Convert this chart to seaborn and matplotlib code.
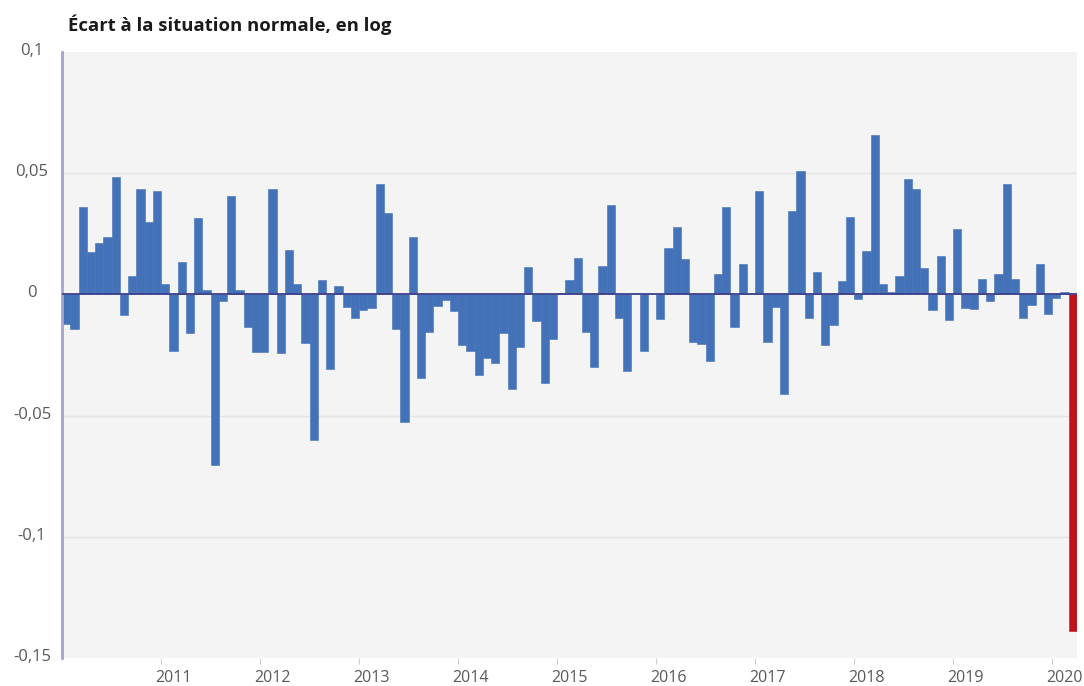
import numpy as np
import pandas as pd
import seaborn as sns
import matplotlib.pyplot as plt
from matplotlib.transforms import ScaledTranslation


# ============================
# Data (monthly, Jan 2010 -> Mar 2020)
# ============================

months = pd.date_range("2010-01-01", periods=123, freq="MS").strftime("%Y-%m").tolist()

ecart = [
    -0.0124, -0.0141, 0.0362, 0.0174, 0.0210, 0.0238, 0.0486, -0.0083, 0.0077, 0.0434, 0.0298, 0.0425,
    0.0044, -0.0235, 0.0135, -0.0160, 0.0315, 0.0019, -0.0702, -0.0028, 0.0406, 0.0019, -0.0133, -0.0238,
    -0.0238, 0.0434, -0.0243, 0.0185, 0.0044, -0.0202, -0.0601, 0.0061, -0.0309, 0.0036, -0.0052, -0.0099,
    -0.0066, -0.0055, 0.0456, 0.0334, -0.0142, -0.0525, 0.0235, -0.0343, -0.0155, -0.0047, -0.0022, -0.0069,
    -0.0207, -0.0232, -0.0331, -0.0262, -0.0283, -0.0159, -0.0390, -0.0218, 0.0113, -0.0108, -0.0366, -0.0182,
    0.0005, 0.0058, 0.0149, -0.0155, -0.0298, 0.0119, 0.0370, -0.0099, -0.0315, 0.0003, -0.0235, 0.0002,
    -0.0101, 0.0193, 0.0279, 0.0145, -0.0198, -0.0204, -0.0273, 0.0086, 0.0359, -0.0133, 0.0127, 0.0003,
    0.0425, -0.0198, -0.0052, -0.0409, 0.0343, 0.0511, -0.0099, 0.0093, -0.0210, -0.0127, 0.0055, 0.0318,
    -0.0017, 0.0180, 0.0657, 0.0044, 0.0008, 0.0076, 0.0477, 0.0434, 0.0110, -0.0064, 0.0160, -0.0105,
    0.0268, -0.0055, -0.0059, 0.0064, -0.0028, 0.0086, 0.0456, 0.0062, -0.0099, -0.0044, 0.0124, -0.0080,
    -0.0014, 0.0008, -0.1390,
]

# last month (confinement) highlighted in red
groupe = ["normal"] * (len(ecart) - 1) + ["crise"]

year_labels = ["2011", "2012", "2013", "2014", "2015", "2016", "2017", "2018", "2019", "2020"]
y_ticks = [0.1, 0.05, 0, -0.05, -0.1, -0.15]
y_labels = ["0,1", "0,05", "0", "-0,05", "-0,1", "-0,15"]

df = pd.DataFrame({"mois": months, "ecart": ecart, "groupe": groupe})


# ============================
# Figure
# ============================

sns.set_theme(style="white")
plt.rcParams["font.family"] = ["Open Sans", "DejaVu Sans"]

fig = plt.figure(figsize=(10.84, 6.86), dpi=100)
W, H = 1084, 686
ax = fig.add_axes([62 / W, 1 - 658 / H, (1077 - 62) / W, (658 - 52) / H])
ax.set_facecolor("#f4f4f4")

# light gridlines
for yv in [0.05, -0.05, -0.1]:
    ax.axhline(yv, color="#e4e4e4", lw=1, zorder=0)

sns.barplot(
    data=df, x="mois", y="ecart", hue="groupe",
    palette={"normal": "#4472b8", "crise": "#c0141c"},
    width=1, dodge=False, saturation=1, legend=False,
    linewidth=0.4, ax=ax, zorder=2,
)
for bar, g in zip(ax.patches, df["groupe"]):
    bar.set_edgecolor("#4472b8" if g == "normal" else "#c0141c")

ax.axhline(0, color="#40408c", lw=1.3, zorder=3)

ax.set_xlim(-0.5, len(ecart) - 0.5)
ax.set_ylim(-0.15, 0.1)

# x axis: year ticks at January
jan_pos = [12 * (i + 1) - 0.5 for i in range(len(year_labels))]
ax.set_xticks(jan_pos)
ax.set_xticklabels(year_labels, fontsize=11.5, color="#595959")
ax.tick_params(axis="x", length=4, width=0.8, color="#cfcfcf", pad=5, bottom=True)
for lab in ax.get_xticklabels():
    lab.set_transform(lab.get_transform() + ScaledTranslation(12 / 100, 0, fig.dpi_scale_trans))

# y axis labels, centred at the left
ax.set_yticks([])
for yv, lab in zip(y_ticks, y_labels):
    fig.text(32 / W, ax.transData.transform((0, yv))[1] / H + 1 / H, lab,
             ha="center", va="center", fontsize=12, color="#595959")

ax.set_xlabel("")
ax.set_ylabel("")

for side in ["top", "right", "bottom"]:
    ax.spines[side].set_visible(False)
ax.spines["left"].set_color("#a3a3d6")
ax.spines["left"].set_linewidth(2)

fig.text(68 / W, 1 - 25 / H, "Écart à la situation normale, en log",
         fontsize=13.3, fontweight="bold", color="#1a1a1a", ha="left", va="center")

fig.savefig("out.png", dpi=100)
